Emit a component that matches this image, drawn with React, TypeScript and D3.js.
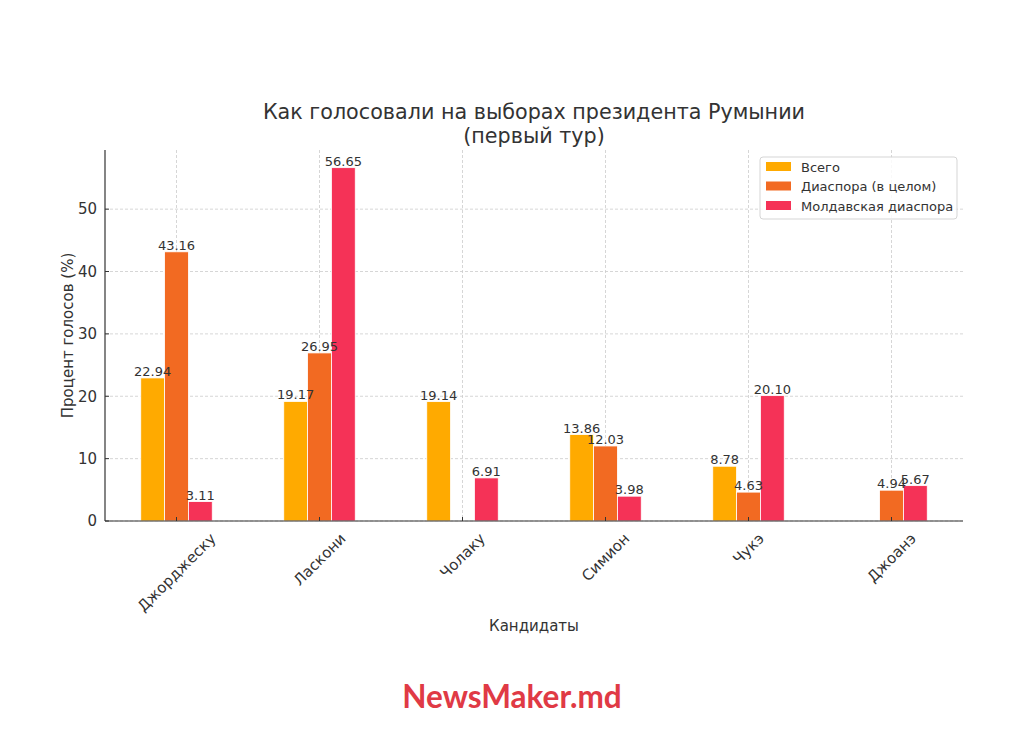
import React from "react";
import * as d3 from "d3";

const candidates = ["Джорджеску", "Ласкони", "Чолаку", "Симион", "Чукэ", "Джоанэ"];
const totalVotes = [22.94, 19.17, 19.14, 13.86, 8.78, 0];
const diasporaVotes = [43.16, 26.95, 0, 12.03, 4.63, 4.94];
const moldovaVotes = [3.11, 56.65, 6.91, 3.98, 20.1, 5.67];
const seriesNames = ["Всего", "Диаспора (в целом)", "Молдавская диаспора"];
const seriesColors = ["#FFAA00", "#F26A22", "#F53257"];
const yTicks = [0, 10, 20, 30, 40, 50];

const W = 1024;
const H = 737;
const M = { left: 105, right: 963, top: 150, bottom: 521 };
const FONT = "'DejaVu Sans', sans-serif";
const TXT = "#333333";

function measure(text: string, size: number): number {
  if (typeof document === "undefined") return text.length * size * 0.6;
  const c = document.createElement("canvas").getContext("2d");
  if (!c) return text.length * size * 0.6;
  c.font = `${size}px "DejaVu Sans"`;
  return c.measureText(text).width;
}

export default function App() {
  const series = [totalVotes, diasporaVotes, moldovaVotes];
  const n = candidates.length;
  const x = d3.scaleLinear().domain([-0.5, n - 0.5]).range([M.left, M.right]);
  const maxV = d3.max(series.flat()) as number;
  const y = d3.scaleLinear().domain([0, maxV * 1.05]).range([M.bottom, M.top]);
  const barW = 0.5 / 3;
  const tickFs = 15;
  const valFs = 13;

  return (
    <svg width={W} height={H} style={{ display: "block", margin: "-8px", background: "#fff" }} fontFamily={FONT}>
      <rect x={0} y={0} width={W} height={H} fill="#fff" />
      {/* grid */}
      {yTicks.map((t) => (
        <line key={"gy" + t} x1={M.left} x2={M.right} y1={y(t)} y2={y(t)} stroke="#cccccc" strokeWidth={0.8} strokeDasharray="3,2" />
      ))}
      {candidates.map((c, i) => (
        <line key={"gx" + c} x1={x(i)} x2={x(i)} y1={M.top} y2={M.bottom} stroke="#cccccc" strokeWidth={0.8} strokeDasharray="3,2" />
      ))}
      {/* bars */}
      {series.map((s, si) =>
        s.map((v, i) => {
          const cx = x(i + (si - 1) * barW);
          const bw = x(barW) - x(0);
          return (
            <rect key={`b${si}-${i}`} x={cx - bw / 2} y={y(v)} width={bw} height={y(0) - y(v)} fill={seriesColors[si]} stroke="#fff" strokeWidth={0.8} />
          );
        })
      )}
      {/* value labels */}
      {series.map((s, si) =>
        s.map((v, i) =>
          v > 0 ? (
            <text key={`l${si}-${i}`} x={x(i + (si - 1) * barW)} y={y(v) - 2} textAnchor="middle" fontSize={valFs} fill={TXT}>
              {v.toFixed(2)}
            </text>
          ) : null
        )
      )}
      {/* axes */}
      <line x1={M.left} x2={M.left} y1={M.top} y2={M.bottom} stroke="#333" strokeWidth={1.2} />
      <line x1={M.left} x2={M.right} y1={M.bottom} y2={M.bottom} stroke="#333" strokeWidth={1.2} />
      {yTicks.map((t) => (
        <g key={"ty" + t}>
          <line x1={M.left} x2={M.left + 4} y1={y(t)} y2={y(t)} stroke="#333" strokeWidth={1} />
          <text x={M.left - 8} y={y(t)} dy="0.35em" textAnchor="end" fontSize={tickFs} fill={TXT}>
            {t}
          </text>
        </g>
      ))}
      {candidates.map((c, i) => {
        const w = measure(c, tickFs);
        const h = tickFs * 1.1;
        const half = (w + h) / (2 * Math.SQRT2);
        const cy = M.bottom + 9 + half;
        return (
          <g key={"tx" + c}>
            <line x1={x(i)} x2={x(i)} y1={M.bottom} y2={M.bottom - 4} stroke="#333" strokeWidth={1} />
            <text x={x(i)} y={cy} dy="0.35em" textAnchor="middle" fontSize={tickFs} fill={TXT} transform={`rotate(-45 ${x(i)} ${cy})`}>
              {c}
            </text>
          </g>
        );
      })}
      {/* axis labels */}
      <text x={(M.left + M.right) / 2} y={631} textAnchor="middle" fontSize={15} fill={TXT}>
        Кандидаты
      </text>
      <text transform={`translate(73 ${(M.top + M.bottom) / 2}) rotate(-90)`} textAnchor="middle" fontSize={15} fill={TXT}>
        Процент голосов (%)
      </text>
      {/* title */}
      <text x={(M.left + M.right) / 2} y={119} textAnchor="middle" fontSize={20.7} fill={TXT}>
        Как голосовали на выборах президента Румынии
      </text>
      <text x={(M.left + M.right) / 2} y={143} textAnchor="middle" fontSize={20.7} fill={TXT}>
        (первый тур)
      </text>
      {/* legend */}
      <g>
        <rect x={760} y={157} width={197} height={62} rx={3} fill="#fff" fillOpacity={0.85} stroke="#d5d5d5" strokeWidth={1} />
        {seriesNames.map((s, si) => (
          <g key={"lg" + s}>
            <rect x={766} y={162 + si * 19.5} width={25} height={9} fill={seriesColors[si]} />
            <text x={801} y={167 + si * 19.5} dy="0.35em" fontSize={13} fill={TXT}>
              {s}
            </text>
          </g>
        ))}
      </g>
      {/* logo */}
      <text x={512} y={708} textAnchor="middle" fontSize={31.5} fontWeight="bold" fontFamily="Lato, sans-serif" fill="#E03A45">
        NewsMaker.md
      </text>
    </svg>
  );
}
